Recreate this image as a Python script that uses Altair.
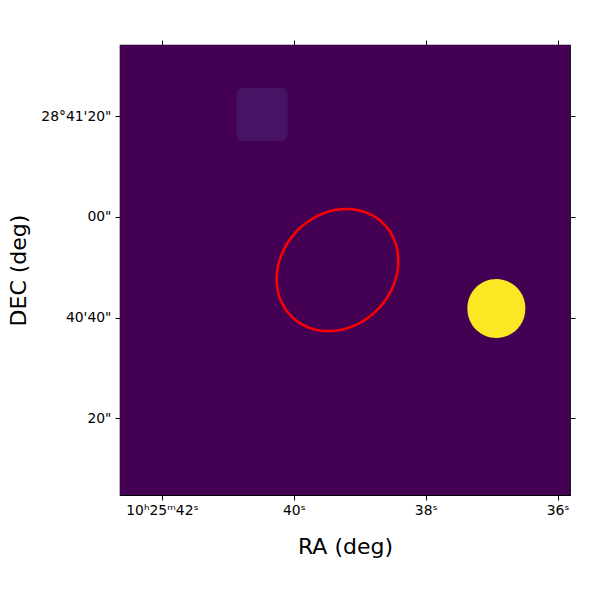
import json
import numpy as np
import pandas as pd
import altair as alt

# ---- data (RA: seconds of 10h25m; Dec: arcsec above 28°40'00") ----
ra_extent = [42.636, 35.812]
dec_extent = [4.76, 94.17]
bg_color = "#440154"

patch_ra = [40.868, 40.095]
patch_dec = [85.62, 75.09]
patch_color = "#471365"

disk_ra = [37.368, 36.489]
disk_dec = [47.67, 35.95]
disk_color = "#fde725"

ell_center = [39.338, 49.46]   # RA s, Dec arcsec
ell_axes = [13.0, 11.2]        # semi-major, semi-minor (arcsec)
ell_angle = 45.0               # deg, counter-clockwise from west on screen
ell_dec_deg = 28.675

ra_ticks = [42, 40, 38, 36]
ra_labels = ["10ʰ25ᵐ42ˢ", "40ˢ", "38ˢ", "36ˢ"]
dec_ticks = [80, 60, 40, 20]
dec_labels = ["28°41'20\"", "00\"", "40'40\"", "20\""]

FONT = "DejaVu Sans"


def label_expr(vals, labs):
    parts = [f"datum.value == {v} ? {json.dumps(l, ensure_ascii=False)}" for v, l in zip(vals, labs)]
    return " : ".join(parts) + " : ''"


xs = alt.Scale(domain=ra_extent, nice=False, zero=False)
ys = alt.Scale(domain=dec_extent, nice=False, zero=False)

ax_bottom = alt.Axis(values=ra_ticks, labelExpr=label_expr(ra_ticks, ra_labels), title="RA (deg)",
                     orient="bottom", tickSize=5, labelPadding=3, titlePadding=20)
ax_left = alt.Axis(values=dec_ticks, labelExpr=label_expr(dec_ticks, dec_labels), title="DEC (deg)",
                   orient="left", tickSize=5, labelPadding=4, titlePadding=10)
ax_top = alt.Axis(values=ra_ticks, labels=False, title=None, orient="top", tickSize=5)
ax_right = alt.Axis(values=dec_ticks, labels=False, title=None, orient="right", tickSize=5)

img_df = pd.DataFrame({
    "ra": [ra_extent[0]], "ra2": [ra_extent[1]],
    "dec": [dec_extent[0]], "dec2": [dec_extent[1]],
})
patch_df = pd.DataFrame({"ra": [patch_ra[0]], "ra2": [patch_ra[1]],
                         "dec": [patch_dec[0]], "dec2": [patch_dec[1]]})
disk_df = pd.DataFrame({"ra": [disk_ra[0]], "ra2": [disk_ra[1]],
                        "dec": [disk_dec[0]], "dec2": [disk_dec[1]]})

# ellipse outline from its centre, axes and angle
t = np.linspace(0, 2 * np.pi, 241)
th = np.deg2rad(ell_angle)
dx = ell_axes[0] * np.cos(t) * np.cos(th) - ell_axes[1] * np.sin(t) * np.sin(th)
dy = ell_axes[0] * np.cos(t) * np.sin(th) + ell_axes[1] * np.sin(t) * np.cos(th)
sec_per_arcsec = 1.0 / (15.0 * np.cos(np.deg2rad(ell_dec_deg)))
ell_df = pd.DataFrame({
    "ra": ell_center[0] - dx * sec_per_arcsec,
    "dec": ell_center[1] + dy,
    "i": np.arange(len(t)),
})

bg = alt.Chart(img_df).mark_rect(color=bg_color).encode(
    x=alt.X("ra:Q", scale=xs, axis=ax_bottom), x2="ra2",
    y=alt.Y("dec:Q", scale=ys, axis=ax_left), y2="dec2",
)
bg2 = alt.Chart(img_df).mark_rect(color=bg_color, opacity=0).encode(
    x=alt.X("ra:Q", scale=xs, axis=ax_top), x2="ra2",
    y=alt.Y("dec:Q", scale=ys, axis=ax_right), y2="dec2",
)
patch = alt.Chart(patch_df).mark_rect(color=patch_color, cornerRadius=6).encode(
    x=alt.X("ra:Q", scale=xs, axis=None), x2="ra2",
    y=alt.Y("dec:Q", scale=ys, axis=None), y2="dec2",
)
disk = alt.Chart(disk_df).mark_rect(color=disk_color, cornerRadius=29).encode(
    x=alt.X("ra:Q", scale=xs, axis=None), x2="ra2",
    y=alt.Y("dec:Q", scale=ys, axis=None), y2="dec2",
)
ell = alt.Chart(ell_df).mark_line(color="#ff0000", strokeWidth=2.5).encode(
    x=alt.X("ra:Q", scale=xs, axis=None),
    y=alt.Y("dec:Q", scale=ys, axis=None),
    order="i:Q",
)

chart = alt.layer(bg, bg2, patch, disk, ell).properties(
    width=450, height=450,
    background="white",
    autosize=alt.AutoSizeParams(type="none"),
    padding={"left": 112, "top": 37, "right": 22, "bottom": 97},
).configure_view(
    stroke="black", strokeWidth=1.2
).configure_axis(
    domain=False, grid=False, tickColor="black", tickWidth=1,
    labelFont=FONT, labelFontSize=13.9, labelColor="black",
    titleFont=FONT, titleFontSize=22, titleFontWeight="normal", titleColor="black",
)

chart.save("out.html", embed_options={"renderer": "svg", "actions": False})
